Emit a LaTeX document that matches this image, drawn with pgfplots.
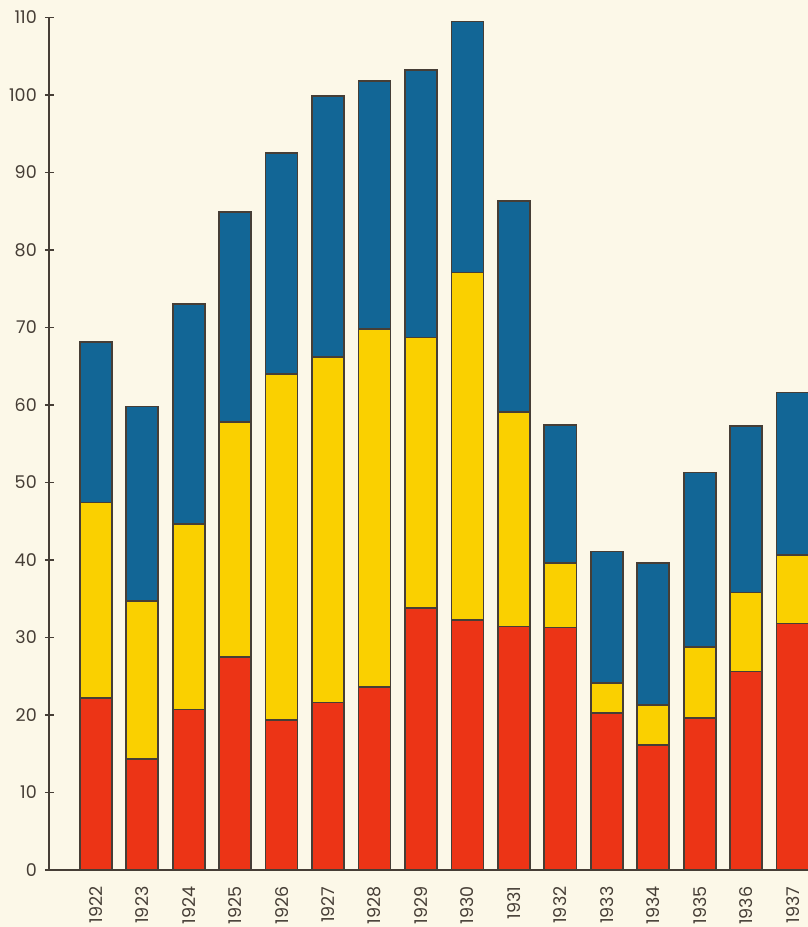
\documentclass[border=0pt]{standalone}
\usepackage{pgfplots}
\pgfplotsset{compat=1.18}
\usepackage{pgfplotstable}
\usepackage{fontspec}
\setmainfont{Poppins}
\usetikzlibrary{backgrounds,calc}

\definecolor{paper}{RGB}{252,248,232}
\definecolor{ink}{RGB}{70,62,54}
\definecolor{redseg}{RGB}{236,52,22}
\definecolor{yellowseg}{RGB}{250,208,0}
\definecolor{blueseg}{RGB}{18,102,150}

% segment heights
\pgfplotstableread{
year red yellow blue
1922 22.2 25.2 20.7
1923 14.3 20.4 25.1
1924 20.7 23.9 28.4
1925 27.5 30.3 27.1
1926 19.4 44.6 28.5
1927 21.6 44.6 33.7
1928 23.6 46.2 32.0
1929 33.8 34.9 34.5
1930 32.3 44.8 32.4
1931 31.4 27.7 27.2
1932 31.3 8.3 17.8
1933 20.3 3.8 17.0
1934 16.1 5.2 18.3
1935 19.6 9.2 22.5
1936 25.6 10.2 21.5
1937 31.8 8.8 21.0
}\datatable

\begin{document}
\begin{tikzpicture}[background rectangle/.style={fill=paper,draw=none},
    show background rectangle, inner frame sep=0pt]
\begin{axis}[
    width=379.35bp, height=426.25bp,
    scale only axis,
    xmin=1921, xmax=1937.33,
    ymin=0, ymax=110,
    axis lines=left,
    axis line style={-, draw=ink, line width=1bp},
    ytick={0,10,...,110},
    xtick={1922,...,1937},
    xtick style={draw=none},
    ytick style={draw=ink, line width=0.9bp},
    tick align=center,
    major tick length=4.5bp,
    /pgf/number format/1000 sep={},
    /pgf/number format/assume math mode=true,
    tick label style={font=\fontsize{8.8}{10}\selectfont, text=ink},
    xticklabel style={rotate=90, anchor=east},
    xticklabel shift=2.5bp,
    yticklabel shift=0.5bp,
    ybar stacked,
    bar width=0.69,
    every axis plot/.append style={draw=ink, line width=0.85bp},
]
\addplot[fill=redseg] table[x=year, y=red] {\datatable};
\addplot[fill=yellowseg] table[x=year, y=yellow] {\datatable};
\addplot[fill=blueseg] table[x=year, y=blue] {\datatable};
\coordinate (o) at (rel axis cs:0,0);
\coordinate (t) at (rel axis cs:1,1);
\end{axis}
\pgfresetboundingbox
\path[use as bounding box] ($(o)+(-24.65bp,-28.5bp)$) rectangle ($(t)+(0,8.75bp)$);
\end{tikzpicture}
\end{document}
